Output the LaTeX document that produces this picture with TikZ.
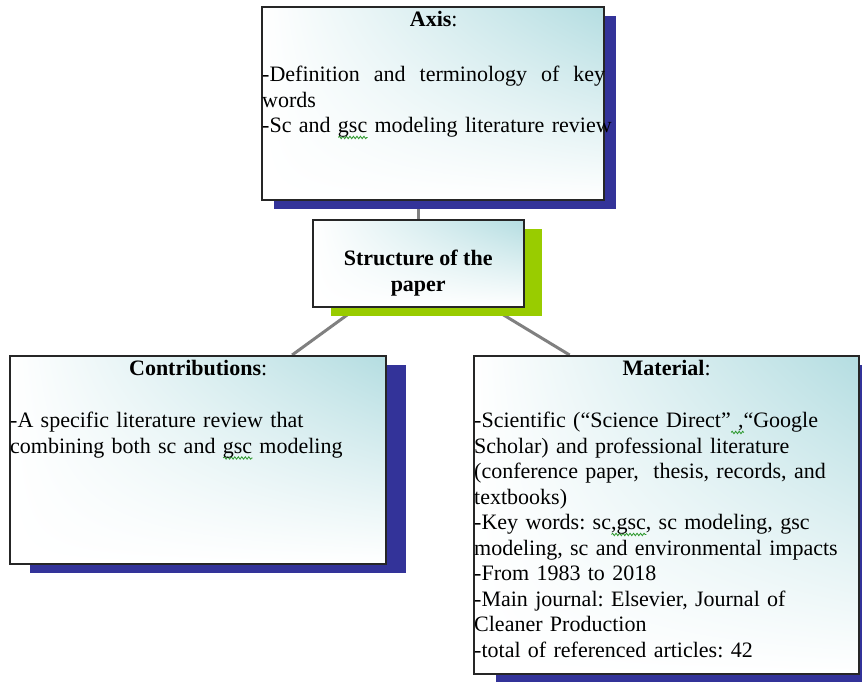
\documentclass[tikz,border=0pt]{standalone}
\usepackage{fontspec}
\setmainfont{Liberation Serif}
\usetikzlibrary{positioning,shadows,shadings,backgrounds,calc,decorations.pathmorphing}

\definecolor{boxteal}{RGB}{180,221,225}
\definecolor{shadowblue}{RGB}{51,51,153}
\definecolor{shadowgreen}{RGB}{153,204,0}
\definecolor{linkgray}{RGB}{128,128,128}
\definecolor{spellgreen}{RGB}{40,150,40}

% green spell-check squiggle under a word
\newcommand{\spellmark}[1]{\setbox0=\hbox{#1}%
  \rlap{\tikz[baseline=0pt]\draw[spellgreen,line width=0.8pt,decorate,
    decoration={snake,amplitude=1.2pt,segment length=3.5pt}]
    (0pt,-4.5pt) -- (\wd0,-4.5pt);}\box0\relax}
% one justified line, one unbroken line
\newcommand{\justline}[1]{\makebox[\hsize][s]{\spaceskip=0pt\xspaceskip=0pt #1}}
\newcommand{\fullline}[1]{\makebox[\hsize][l]{#1}}

\begin{document}
\frenchspacing
\begin{tikzpicture}[x=1pt,y=-1pt,
  infobox/.style={draw=black!85,line width=1.5pt,shade,upper right=boxteal,
                  upper left=white,lower left=white,lower right=white,
                  inner sep=0pt,anchor=north west},
  blueshadow/.style={drop shadow={shadow xshift=#1,shadow yshift=-9pt,
                  fill=shadowblue,opacity=1}},
  greenshadow/.style={drop shadow={shadow xshift=#1,shadow yshift=-9pt,
                  fill=shadowgreen,opacity=1}},
  boxtext/.style={font=\fontsize{22}{25.5}\selectfont\frenchspacing,inner sep=0pt,
                  align=left,anchor=north west},
  link/.style={draw=linkgray,line width=3pt},
]
\useasboundingbox (0,0) rectangle (862,681);

% Boxes
\node[infobox,blueshadow=12pt,minimum width=342pt,minimum height=193pt] (axis) at (261,6) {};
\node[infobox,greenshadow=18pt,minimum width=211pt,minimum height=87pt] (struct) at (312,219) {};
\node[infobox,blueshadow=20pt,minimum width=376pt,minimum height=208pt] (contrib) at (9,355) {};
\node[infobox,blueshadow=22pt,minimum width=385pt,minimum height=318pt] (material) at (473,355) {};

% Connectors
\begin{scope}[on background layer]
\draw[link] (struct.center) -- (struct.center |- axis.south);
\draw[link] (struct.center) -- ($(contrib.north)!0.5!(contrib.north east)$);
\draw[link] (struct.center) -- ($(material.north)!0.5!(material.north west)$);
\end{scope}

% Axis
\node[boxtext,text width=343pt] (axistext) at ([shift={(1,5)}]axis.north west)
  {\makebox[\hsize]{\textbf{Axis}:}\\[30pt]
   \justline{-Definition and terminology of key}\\
   words\\
   \fullline{-Sc and \spellmark{gsc} modeling literature review}};

% Structure of the paper
\node[font=\fontsize{22}{25.5}\selectfont\bfseries,align=center,inner sep=0pt]
  (structtext) at ([yshift=-10pt]struct.center) {Structure of the\\paper};

% Contributions
\node[boxtext,text width=376pt] (contribtext) at ([shift={(1,5)}]contrib.north west)
  {\makebox[\hsize]{\textbf{Contributions}:}\\[27pt]
   -A specific literature review that\\
   combining both sc and \spellmark{gsc} modeling};

% Material
\node[boxtext,text width=385pt] (materialtext) at ([shift={(1,5)}]material.north west)
  {\makebox[\hsize]{\textbf{Material}:}\\[27pt]
   -Scientific (“Science Direct”\spellmark{~,}“Google\\
   Scholar) and professional literature\\
   (conference paper,\ \ thesis, records, and\\
   textbooks)\\
   -Key words: sc\spellmark{,gsc}, sc modeling, gsc\\
   modeling, sc and environmental impacts\\
   -From 1983 to 2018\\
   -Main journal: Elsevier, Journal of\\
   Cleaner Production\\
   -total of referenced articles: 42};

\end{tikzpicture}
\end{document}
